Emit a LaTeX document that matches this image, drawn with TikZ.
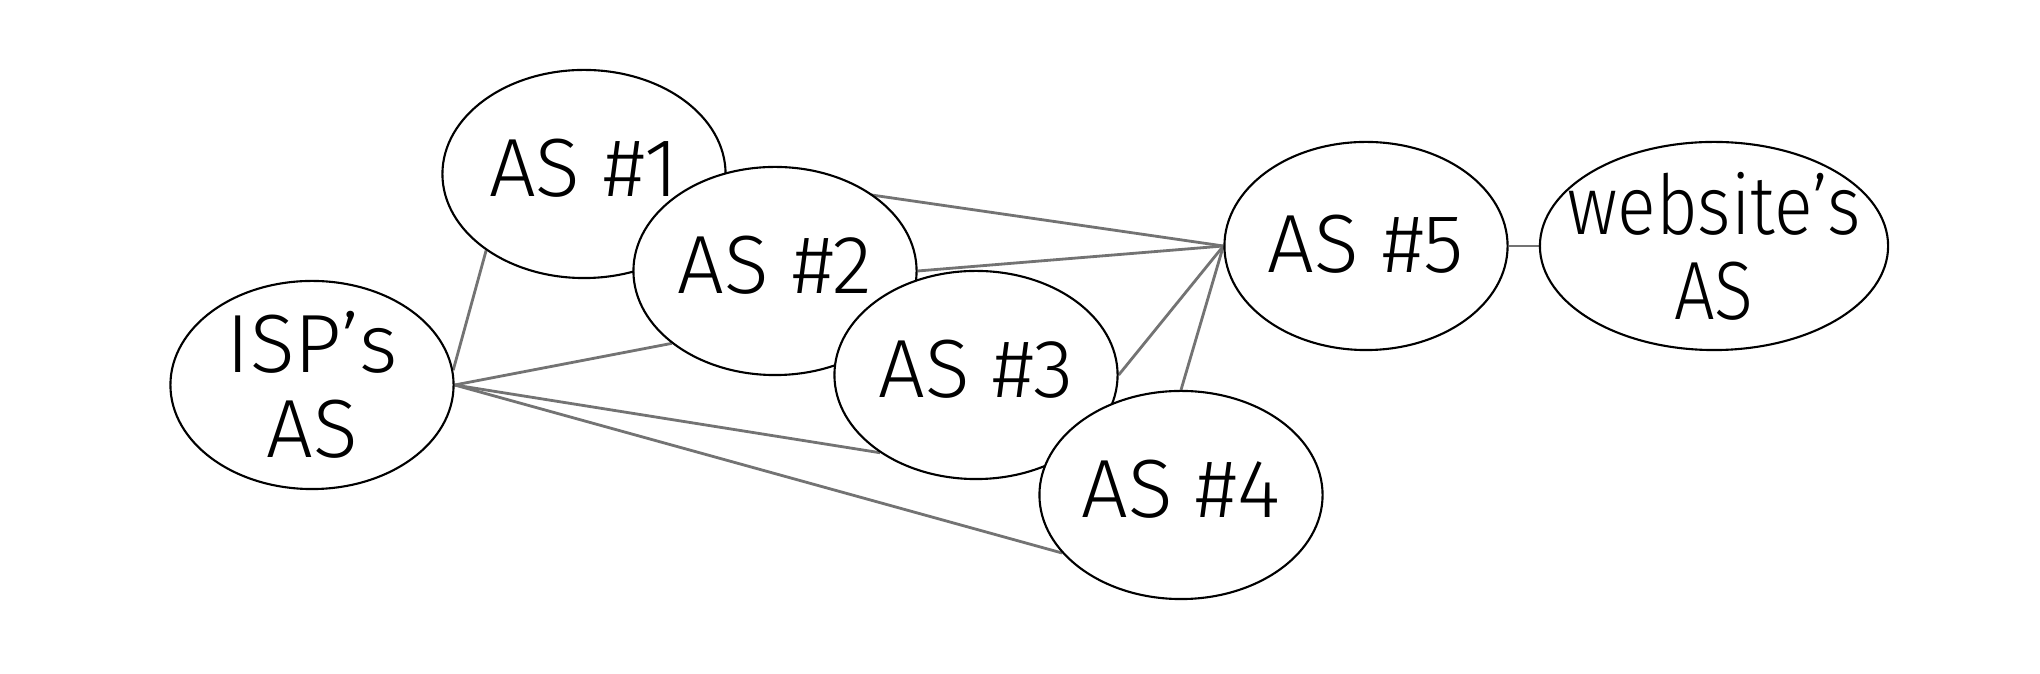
\documentclass[tikz,border=0pt]{standalone}
\usepackage{fontspec}
\setmainfont{Fira Sans Light}
\usetikzlibrary{shapes.geometric}
\pgfdeclarelayer{background}
\pgfsetlayers{background,main}
\begin{document}
\begin{tikzpicture}[x=0.01cm,y=-0.01cm,
  asnode/.style={ellipse,draw=black,line width=0.6pt,fill=white,inner sep=0pt,minimum width=2.83cm,minimum height=2.08cm},
  lbl/.style={font=\fontsize{23.5}{24.2}\selectfont,align=center,inner sep=0pt},
  link/.style={draw=black!55,line width=0.8pt}]
\useasboundingbox (0,0) rectangle (2040,674);
\node[asnode,label={[lbl]center:ISP’s\\AS}] (isp) at (312,385) {};
\node[asnode,label={[lbl,yshift=0.6mm]center:AS \#1}] (as1) at (584,174) {};
\node[asnode,label={[lbl,yshift=0.6mm]center:AS \#2}] (as2) at (775,271) {};
\node[asnode,label={[lbl,yshift=0.6mm]center:AS \#3}] (as3) at (976,375) {};
\node[asnode,label={[lbl,yshift=0.6mm]center:AS \#4}] (as4) at (1181,495) {};
\node[asnode,label={[lbl,yshift=0.2mm]center:AS \#5}] (as5) at (1366,246) {};
\node[asnode,minimum width=3.48cm,label={[lbl,font=\fontsize{23.5}{24.2}\selectfont\addfontfeature{FakeStretch=0.87}]center:website’s\\AS}] (web) at (1714,246) {};
\begin{pgfonlayer}{background}
\draw[link] (isp.6) -- (as1.218);
\draw[link] (isp.east) -- (as2.215);
\draw[link] (isp.east) -- (as3.219);
\draw[link] (isp.east) -- (as4.206);
\draw[link] (as1.east) -- (as5.west);
\draw[link] (as2.east) -- (as5.west);
\draw[link] (as3.east) -- (as5.west);
\draw[link] (as4.north) -- (as5.west);
\draw[link] (as5.east) -- (web.west);
\end{pgfonlayer}
\end{tikzpicture}
\end{document}
